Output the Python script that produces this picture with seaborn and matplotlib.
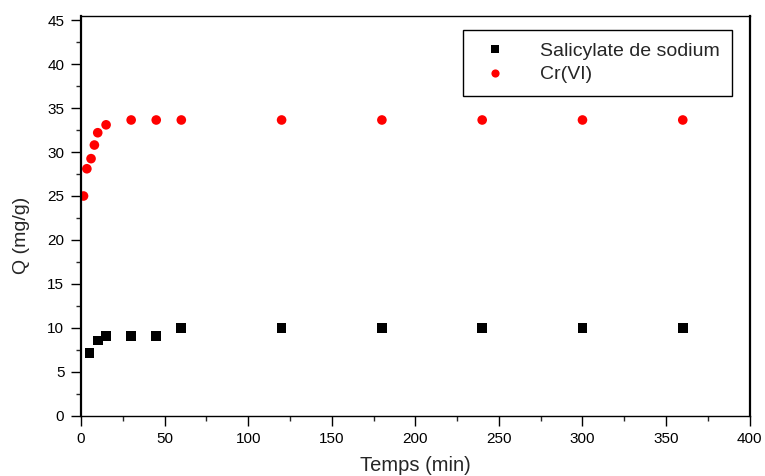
import matplotlib
matplotlib.use("Agg")
import matplotlib.pyplot as plt
from matplotlib.ticker import MultipleLocator
import seaborn as sns
import pandas as pd

# time points (min) and adsorbed quantity Q (mg/g)
salicylate_t = [5, 10, 15, 30, 45, 60, 120, 180, 240, 300, 360]
salicylate_q = [7.15, 8.55, 9.1, 9.1, 9.1, 9.95, 10.0, 10.0, 10.0, 10.0, 10.0]

cr_t = [1.5, 3.5, 6, 8, 10, 15, 30, 45, 60, 120, 180, 240, 300, 360]
cr_q = [25.0, 28.1, 29.25, 30.8, 32.2, 33.1, 33.65, 33.65, 33.65, 33.65, 33.65, 33.65, 33.65, 33.65]

sns.set_style("ticks")
plt.rcParams["font.family"] = ["Liberation Sans", "DejaVu Sans"]

df = pd.concat([
    pd.DataFrame({"t": salicylate_t, "q": salicylate_q, "serie": "Salicylate de sodium"}),
    pd.DataFrame({"t": cr_t, "q": cr_q, "serie": "Cr(VI)"}),
])

fig = plt.figure(figsize=(7.65, 4.76), dpi=100)
ax = fig.add_axes([0.1059, 0.1267, 0.874, 0.840])

sns.scatterplot(data=df, x="t", y="q", hue="serie", style="serie",
                palette={"Salicylate de sodium": "black", "Cr(VI)": "#ff0000"},
                markers={"Salicylate de sodium": "s", "Cr(VI)": "o"},
                s=48, linewidth=0, ax=ax)

ax.set_xlim(0, 400)
ax.set_ylim(0, 45.5)
ax.xaxis.set_major_locator(MultipleLocator(50))
ax.xaxis.set_minor_locator(MultipleLocator(25))
ax.yaxis.set_major_locator(MultipleLocator(5))
ax.yaxis.set_minor_locator(MultipleLocator(2.5))
ax.tick_params(which="major", direction="out", length=7, width=1, pad=5,
               labelsize=11, colors="black")
ax.tick_params(which="minor", direction="out", length=3.6, width=1)

for side in ["left", "right"]:
    ax.spines[side].set_linewidth(1.6)
for side in ["top", "bottom"]:
    ax.spines[side].set_linewidth(1.0)
for sp in ax.spines.values():
    sp.set_color("black")
    sp.set_visible(True)

ax.set_xlabel("Temps (min)", fontsize=14.5, labelpad=7)
ax.set_ylabel("Q (mg/g)", fontsize=14)
ax.yaxis.set_label_coords(-0.077, 0.45)

leg = ax.legend(loc="upper right", bbox_to_anchor=(0.9735, 0.9655), fontsize=14,
                frameon=True, fancybox=False, edgecolor="black", framealpha=1,
                handletextpad=1.3, borderpad=0.65, labelspacing=0.3, markerscale=0.85,
                borderaxespad=0)
leg.get_frame().set_linewidth(1.0)

fig.savefig("out.png", dpi=100)
